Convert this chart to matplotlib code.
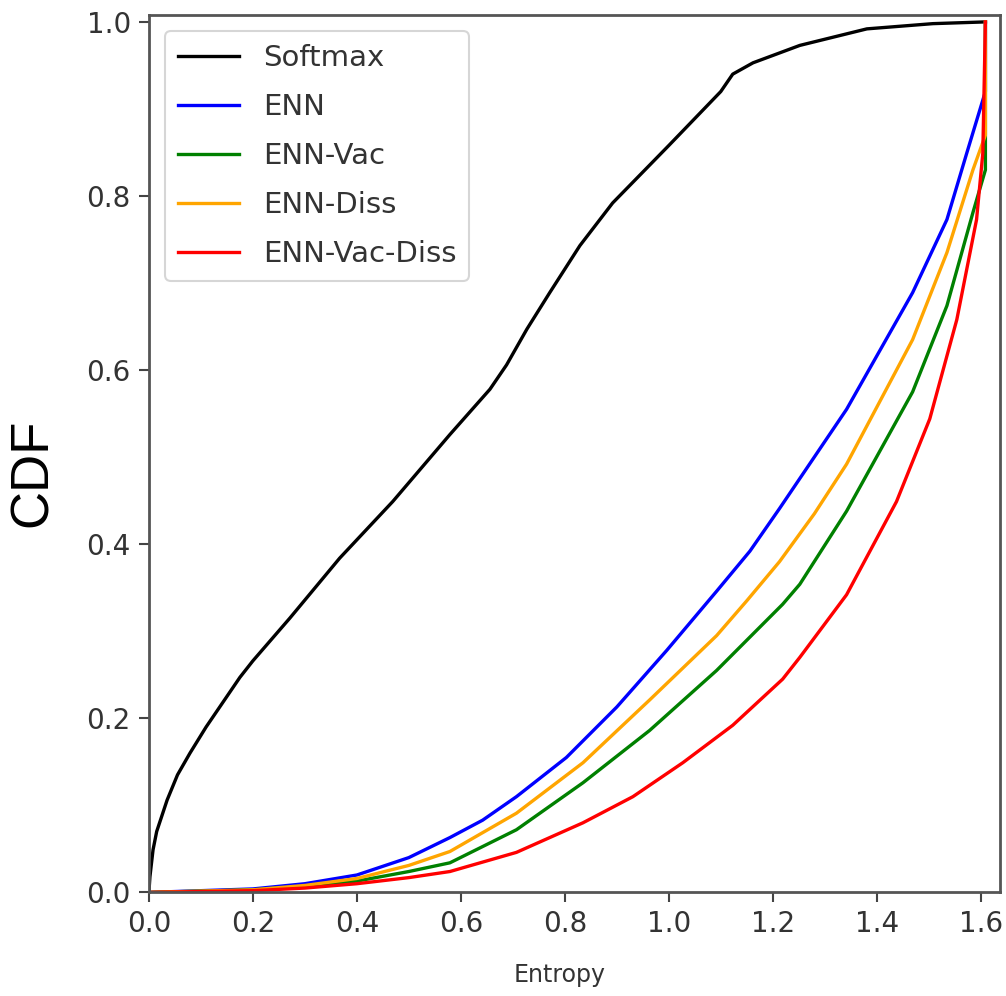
import matplotlib
matplotlib.use("Agg")
import matplotlib.pyplot as plt

# ---- data ----
softmax_x = [0.0, 0.002, 0.008, 0.015, 0.035, 0.055, 0.079, 0.11, 0.175, 0.2, 0.271, 0.367,
             0.469, 0.579, 0.656, 0.688, 0.727, 0.771, 0.829, 0.892, 1.0, 1.1, 1.123,
             1.162, 1.252, 1.381, 1.508, 1.609]
softmax_y = [0.0, 0.018, 0.049, 0.07, 0.106, 0.135, 0.16, 0.19, 0.247, 0.266, 0.315, 0.384,
             0.449, 0.526, 0.578, 0.606, 0.647, 0.689, 0.743, 0.792, 0.858, 0.92, 0.94,
             0.953, 0.973, 0.992, 0.998, 1.0]

enn_x = [0.0, 0.2, 0.3, 0.4, 0.5, 0.579, 0.642, 0.707, 0.803, 0.9, 0.996, 1.092,
         1.156, 1.213, 1.342, 1.469, 1.535, 1.573, 1.609, 1.609]
enn_y = [0.0, 0.004, 0.01, 0.02, 0.04, 0.063, 0.083, 0.110, 0.155, 0.213, 0.278, 0.346,
         0.392, 0.441, 0.555, 0.689, 0.773, 0.849, 0.92, 1.0]

vac_x = [0.0, 0.2, 0.3, 0.4, 0.5, 0.579, 0.707, 0.835, 0.963, 1.092, 1.219, 1.252,
         1.342, 1.469, 1.535, 1.585, 1.609, 1.609]
vac_y = [0.0, 0.003, 0.007, 0.013, 0.024, 0.034, 0.072, 0.126, 0.186, 0.255, 0.331, 0.354,
         0.438, 0.575, 0.674, 0.781, 0.83, 1.0]

diss_x = [0.0, 0.2, 0.3, 0.4, 0.5, 0.579, 0.707, 0.835, 0.963, 1.092, 1.15, 1.213, 1.28,
          1.342, 1.469, 1.535, 1.585, 1.609, 1.609]
diss_y = [0.0, 0.003, 0.008, 0.016, 0.031, 0.047, 0.091, 0.149, 0.221, 0.295, 0.335, 0.38, 0.435,
          0.492, 0.635, 0.735, 0.83, 0.87, 1.0]

vacdiss_x = [0.0, 0.2, 0.3, 0.4, 0.5, 0.579, 0.707, 0.835, 0.931, 1.027, 1.123, 1.219,
             1.252, 1.342, 1.438, 1.502, 1.554, 1.592, 1.604, 1.609]
vacdiss_y = [0.0, 0.002, 0.005, 0.01, 0.017, 0.024, 0.046, 0.080, 0.11, 0.149, 0.192, 0.245,
             0.27, 0.342, 0.449, 0.544, 0.658, 0.773, 0.849, 1.0]

labels = ["Softmax", "ENN", "ENN-Vac", "ENN-Diss", "ENN-Vac-Diss"]
colors = ["black", "blue", "green", "orange", "red"]

x_ticks = [0.0, 0.2, 0.4, 0.6, 0.8, 1.0, 1.2, 1.4, 1.6]
y_ticks = [0.0, 0.2, 0.4, 0.6, 0.8, 1.0]

# ---- figure ----
fig = plt.figure(figsize=(10.06, 9.96), dpi=100)
ax = fig.add_axes([0.148, 0.104, 0.846, 0.881])

series = [(softmax_x, softmax_y), (enn_x, enn_y), (vac_x, vac_y),
          (diss_x, diss_y), (vacdiss_x, vacdiss_y)]
for (xs, ys), lab, col in zip(series, labels, colors):
    ax.plot(xs, ys, color=col, lw=2.4, label=lab, solid_joinstyle="round")

ax.set_xlim(0, 1.637)
ax.set_ylim(0, 1.008)
ax.set_xticks(x_ticks)
ax.set_xticklabels([f"{v:.1f}" for v in x_ticks])
ax.set_yticks(y_ticks)
ax.set_yticklabels([f"{v:.1f}" for v in y_ticks])
ax.tick_params(labelsize=20, length=7, width=1.5, color="#444444", labelcolor="#333333", pad=6)
for s in ax.spines.values():
    s.set_color("#555555")
    s.set_linewidth(2)

leg = ax.legend(loc="upper left", fontsize=21, frameon=True, fancybox=True,
                handlelength=2.1, handletextpad=0.8, labelspacing=0.72,
                borderaxespad=0.55, borderpad=0.45)
leg.get_frame().set_edgecolor("#cccccc")
leg.get_frame().set_linewidth(1.5)
for t in leg.get_texts():
    t.set_color("#333333")

fig.text(33 / 1006, 1 - 473 / 996, "CDF", rotation=90, ha="center", va="center",
         fontsize=38, family="Liberation Sans", color="black")
fig.text(560 / 1006, 1 - 975 / 996, "Entropy", ha="center", va="center",
         fontsize=17, color="#333333")

fig.savefig("out.png", dpi=100)
